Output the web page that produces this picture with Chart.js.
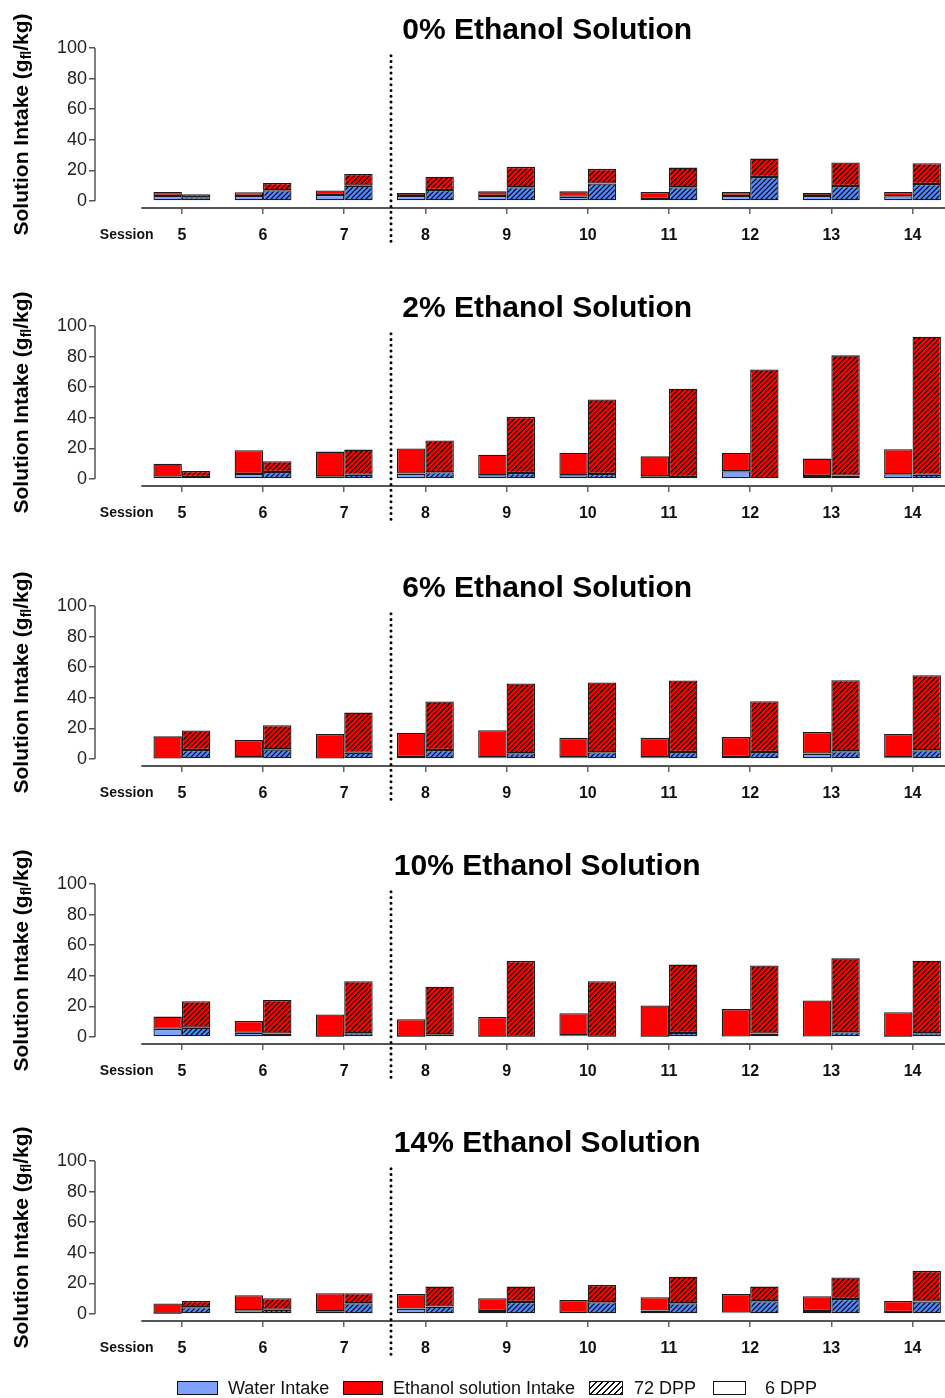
<!DOCTYPE html>
<html>
<head>
<meta charset="utf-8">
<script src="https://cdn.jsdelivr.net/npm/chart.js@4.4.1/dist/chart.umd.min.js"></script>
<style>
  html, body { margin: 0; padding: 0; background: #fff; width: 945px; height: 1398px; overflow: hidden; }
  .panel { position: absolute; left: 0; width: 945px; height: 278px; }
  #legend { position: absolute; left: 0; top: 1378px; width: 945px; height: 20px;
            font: 18px "Liberation Sans", Arial, sans-serif; color: #111; }
  .sw { position: absolute; top: 3px; height: 12px; border: 1px solid #111; box-sizing: content-box; }
  .lt { position: absolute; top: 0; line-height: 20px; white-space: nowrap; }
</style>
</head>
<body>
<div class="panel" style="top:0px"><canvas id="c0"></canvas></div>
<div class="panel" style="top:278px"><canvas id="c1"></canvas></div>
<div class="panel" style="top:558px"><canvas id="c2"></canvas></div>
<div class="panel" style="top:836px"><canvas id="c3"></canvas></div>
<div class="panel" style="top:1113px"><canvas id="c4"></canvas></div>

<div id="legend">
  <div class="sw" style="left:177px;width:39px;background:#7ea1fb"></div>
  <div class="lt" style="left:228px">Water Intake</div>
  <div class="sw" style="left:343px;width:38px;background:#ff0000"></div>
  <div class="lt" style="left:393px">Ethanol solution Intake</div>
  <div class="sw" style="left:589px;width:32px;background:repeating-linear-gradient(135deg,#111 0 1.3px,#fff 1.3px 4.2px)"></div>
  <div class="lt" style="left:634px">72 DPP</div>
  <div class="sw" style="left:713px;width:31px;background:#fff"></div>
  <div class="lt" style="left:765px">6 DPP</div>
</div>

<script>
const sessions = [5, 6, 7, 8, 9, 10, 11, 12, 13, 14];
const yTicks = [0, 20, 40, 60, 80, 100];
const titles = ['0% Ethanol Solution', '2% Ethanol Solution', '6% Ethanol Solution',
                '10% Ethanol Solution', '14% Ethanol Solution'];

// 0% ethanol
const water6_0  = [3.3, 3.3, 3.9, 3.3, 3.3, 2.8, 1.3, 3.3, 3.3, 3.1];
const eth6_0    = [2.6, 2.4, 2.9, 1.9, 3.0, 3.5, 4.6, 2.6, 1.9, 2.8];
const water72_0 = [2.4, 7.0, 10.0, 7.2, 9.0, 11.4, 9.0, 15.7, 9.8, 11.1];
const eth72_0   = [2.0, 4.8, 7.7, 8.7, 13.3, 9.6, 12.8, 12.0, 15.3, 13.6];

// 2% ethanol
const water6_2  = [1.5, 3.3, 1.7, 3.5, 2.4, 2.4, 1.7, 5.0, 2.0, 3.1];
const eth6_2    = [8.5, 15.5, 16.2, 16.4, 13.5, 14.8, 13.1, 12.2, 11.3, 16.3];
const water72_2 = [1.3, 4.6, 2.8, 4.4, 3.9, 3.3, 1.3, 0.4, 2.2, 2.8];
const eth72_2   = [3.9, 7.0, 16.4, 20.7, 36.7, 48.7, 57.7, 71.2, 78.6, 90.2];

// 6% ethanol
const water6_6  = [0.3, 1.1, 0.3, 1.3, 1.1, 1.1, 1.1, 1.3, 3.5, 1.1];
const eth6_6    = [14.5, 11.3, 16.1, 15.9, 17.7, 12.7, 12.7, 13.1, 14.2, 15.3];
const water72_6 = [5.9, 6.3, 4.1, 5.9, 3.7, 4.4, 4.6, 4.6, 5.0, 5.7];
const eth72_6   = [12.7, 15.8, 26.2, 31.7, 45.6, 45.6, 46.7, 33.2, 46.5, 49.1];

// 10% ethanol
const water6_10  = [5.3, 2.8, 0.2, 0.2, 0.2, 1.1, 0.2, 0.3, 0.3, 0.2];
const eth6_10    = [8.0, 7.7, 14.5, 11.4, 12.9, 14.4, 20.4, 17.9, 23.6, 16.0];
const water72_10 = [6.1, 2.2, 2.4, 1.8, 0.2, 0.2, 2.6, 2.2, 3.1, 2.4];
const eth72_10   = [17.3, 21.9, 34.1, 31.0, 49.5, 36.3, 44.7, 44.6, 48.3, 47.5];

// 14% ethanol
const water6_14  = [0.2, 2.4, 1.8, 3.5, 2.0, 0.7, 2.2, 0.9, 2.0, 1.3];
const eth6_14    = [6.6, 9.9, 11.8, 9.6, 8.3, 8.5, 8.7, 12.2, 9.6, 7.2];
const water72_14 = [4.4, 2.8, 7.0, 4.8, 7.9, 7.7, 7.0, 8.3, 9.8, 8.1];
const eth72_14   = [4.1, 7.5, 6.6, 13.1, 10.0, 11.3, 17.3, 9.6, 14.1, 20.1];

const panels = [
  [water6_0, eth6_0, water72_0, eth72_0],
  [water6_2, eth6_2, water72_2, eth72_2],
  [water6_6, eth6_6, water72_6, eth72_6],
  [water6_10, eth6_10, water72_10, eth72_10],
  [water6_14, eth6_14, water72_14, eth72_14]
];

const FONT = '"Liberation Sans", Arial, sans-serif';
Chart.defaults.font.family = FONT;

// diagonal "////" fill used for the 72 DPP bars
function hatch(bg) {
  const c = document.createElement('canvas');
  c.width = 5; c.height = 5;
  const g = c.getContext('2d');
  g.fillStyle = bg;
  g.fillRect(0, 0, 5, 5);
  g.strokeStyle = '#000';
  g.lineWidth = 1.2;
  g.beginPath();
  g.moveTo(0, 5); g.lineTo(5, 0);
  g.moveTo(-1, 1); g.lineTo(1, -1);
  g.moveTo(4, 6); g.lineTo(6, 4);
  g.stroke();
  return g.createPattern(c, 'repeat');
}

const WATER_6 = '#7ea1fb';
const WATER_72 = hatch('#4d88ff');
const ETH_6 = '#ff0000';
const ETH_72 = hatch('#ff0000');

const pts = arr => sessions.map((s, i) => ({ x: s, y: arr[i] }));

// axes lines, the dotted 7|8 divider, title and the rotated y label
const panelDecor = {
  id: 'panelDecor',
  afterDraw(chart, args, opts) {
    const { ctx, chartArea, scales: { x, y } } = chart;
    ctx.save();

    ctx.strokeStyle = '#555';
    ctx.lineWidth = 2;
    ctx.beginPath();
    ctx.moveTo(x.getPixelForValue(4.5), chartArea.bottom);
    ctx.lineTo(chartArea.right, chartArea.bottom);
    ctx.stroke();

    ctx.lineWidth = 1.5;
    ctx.beginPath();
    ctx.moveTo(chartArea.left, y.getPixelForValue(0));
    ctx.lineTo(chartArea.left, y.getPixelForValue(100));
    ctx.stroke();

    const dx = Math.round(x.getPixelForValue(7.57));
    ctx.strokeStyle = '#000';
    ctx.lineWidth = 3;
    ctx.lineCap = 'round';
    ctx.setLineDash([0, 5.8]);
    ctx.beginPath();
    ctx.moveTo(dx, y.getPixelForValue(95));
    ctx.lineTo(dx, chartArea.bottom + 35);
    ctx.stroke();
    ctx.setLineDash([]);

    ctx.fillStyle = '#000';
    ctx.textAlign = 'center';
    ctx.textBaseline = 'alphabetic';
    ctx.font = 'bold 30px ' + FONT;
    ctx.fillText(opts.title, x.getPixelForValue(9.5), 39);

    ctx.fillStyle = '#111';
    ctx.font = 'bold 14px ' + FONT;
    ctx.textBaseline = 'middle';
    ctx.fillText('Session', x.getPixelForValue(4.32), chartArea.bottom + 27);

    // Solution Intake (g_fl/kg), with the subscript drawn smaller and lower
    const big = 'bold 21px ' + FONT, small = 'bold 14px ' + FONT;
    const parts = [['Solution Intake (g', big, 0], ['fl', small, 5], ['/kg)', big, 0]];
    let total = 0;
    parts.forEach(p => { ctx.font = p[1]; total += ctx.measureText(p[0]).width; });
    ctx.translate(22, y.getPixelForValue(50));
    ctx.rotate(-Math.PI / 2);
    ctx.textAlign = 'left';
    ctx.fillStyle = '#000';
    let px = -total / 2;
    parts.forEach(p => {
      ctx.font = p[1];
      ctx.fillText(p[0], px, p[2]);
      px += ctx.measureText(p[0]).width;
    });
    ctx.restore();
  }
};

const barStyle = { borderColor: '#1a1a1a', borderWidth: 1.3, borderSkipped: false,
                   categoryPercentage: 0.7, barPercentage: 1 };

panels.forEach((p, k) => {
  const [w6, e6, w72, e72] = p;
  new Chart(document.getElementById('c' + k), {
    type: 'bar',
    data: {
      datasets: [
        { label: 'Water Intake 6 DPP', stack: 'd6', data: pts(w6), backgroundColor: WATER_6, ...barStyle },
        { label: 'Ethanol solution Intake 6 DPP', stack: 'd6', data: pts(e6), backgroundColor: ETH_6, ...barStyle },
        { label: 'Water Intake 72 DPP', stack: 'd72', data: pts(w72), backgroundColor: WATER_72, ...barStyle },
        { label: 'Ethanol solution Intake 72 DPP', stack: 'd72', data: pts(e72), backgroundColor: ETH_72, ...barStyle }
      ]
    },
    options: {
      responsive: true,
      maintainAspectRatio: false,
      animation: false,
      devicePixelRatio: 1,
      layout: { padding: { top: 48, left: 0, right: 0, bottom: 0 } },
      plugins: {
        legend: { display: false },
        tooltip: { enabled: false },
        panelDecor: { title: titles[k] }
      },
      scales: {
        x: {
          type: 'linear',
          offset: false,
          min: 3.93,
          max: 14.4,
          afterBuildTicks: s => { s.ticks = sessions.map(v => ({ value: v })); },
          afterFit: s => { s.height = 70; s.paddingLeft = 0; s.paddingRight = 0; },
          border: { display: false },
          grid: { offset: false, drawOnChartArea: false, tickLength: 6, color: '#666', lineWidth: 1.5 },
          ticks: { padding: 12, color: '#111', maxRotation: 0, autoSkip: false,
                   font: { size: 16, weight: 'bold' } }
        },
        y: {
          stacked: true,
          min: -4.6,
          max: 100,
          afterBuildTicks: s => { s.ticks = yTicks.map(v => ({ value: v })); },
          afterFit: s => { s.width = 95; },
          border: { display: false },
          grid: { drawOnChartArea: false, tickLength: 6, color: '#555', lineWidth: 1.5 },
          ticks: { padding: 2, color: '#222', font: { size: 18 } }
        }
      }
    },
    plugins: [panelDecor]
  });
});
</script>
</body>
</html>
